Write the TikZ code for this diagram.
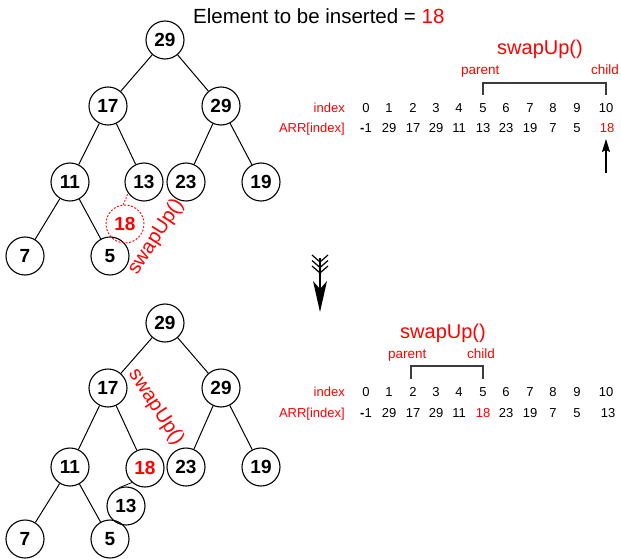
\documentclass[tikz,border=0pt]{standalone}
\usepackage{fontspec}
\setmainfont{Liberation Sans}
\usetikzlibrary{arrows.meta}
\definecolor{hred}{RGB}{255,0,0}
\definecolor{brk}{RGB}{60,60,60}
\begin{document}
\begin{tikzpicture}[x=1pt,y=-1pt,
  hnode/.style={circle,draw,line width=1.1pt,minimum size=38pt,inner sep=0pt,font=\fontsize{19}{19}\selectfont\bfseries},
  treeline/.style={line width=1pt},
  lbl/.style={font=\fontsize{13}{13}\selectfont,anchor=base,inner sep=0pt},
  redlbl/.style={lbl,text=hred},
  bigred/.style={font=\fontsize{20}{20}\selectfont,text=hred,inner sep=0pt},
  bracket/.style={draw=brk,line width=1.2pt}]
\useasboundingbox (0,0) rectangle (621,559);

% title
\node[font=\fontsize{20.5}{20.5}\selectfont,anchor=base west,inner sep=0pt] (title) at (193,24) {Element to be inserted = \textcolor{hred}{18}};

% ---------- top tree ----------
\node[hnode] (tr) at (165,40) {29};
\node[hnode] (ta) at (108,106) {17};
\node[hnode] (tb) at (221,106) {29};
\node[hnode] (tc) at (70,182) {11};
\node[hnode] (td) at (144,182) {13};
\node[hnode] (te) at (186,182) {23};
\node[hnode] (tf) at (261,182) {19};
\node[hnode] (tg) at (25,256) {7};
\node[hnode] (th) at (110,256) {5};
\node[hnode,draw=hred,text=hred,line width=0.9pt,dash pattern=on 2pt off 1.6pt] (tn) at (125,224) {18};
\draw[treeline] (tr) -- (ta);
\draw[treeline] (tr) -- (tb);
\draw[treeline] (ta) -- (tc);
\draw[treeline] (ta) -- (td);
\draw[treeline] (tb) -- (te);
\draw[treeline] (tb) -- (tf);
\draw[treeline] (tc) -- (tg);
\draw[treeline] (tc) -- (th);
\draw[hred,line width=0.9pt,dash pattern=on 1.6pt off 1.6pt] (tn.95) -- (td.215);
\node[bigred,rotate=57] (tsw) at (156,237) {swapUp()};

% ---------- top array ----------
\node[redlbl,anchor=base east] (tidx) at (345,113) {index};
\node[redlbl,anchor=base east] (tarr) at (345,133) {ARR[index]};
\node[lbl] (ti0) at (366,113) {0};
\node[lbl] (tv0) at (366,133) {{\bfseries -}1};
\foreach \i/\x/\v in {1/389/29,2/413/17,3/436/29,4/459/11,5/483/13,6/506/23,7/530/19,8/553/7,9/577/5}{
  \node[lbl] (ti\i) at (\x,113) {\i};
  \node[lbl] (tv\i) at (\x,133) {\v};
}
\node[lbl] (ti10) at (606,113) {10};
\node[redlbl] (tv10) at (607,133) {18};
\node[bigred,anchor=base west] (tswap) at (497,55) {swapUp()};
\node[redlbl,font=\fontsize{13.5}{13.5}\selectfont,anchor=base west] (tpar) at (461,75) {parent};
\node[redlbl,font=\fontsize{13.5}{13.5}\selectfont,anchor=base west] (tchi) at (591,75) {child};
\coordinate (tb1) at (483,95);
\coordinate (tb2) at (483,83);
\coordinate (tb3) at (606,83);
\coordinate (tb4) at (606,95);
\draw[bracket] (tb1) -- (tb2) -- (tb3) -- (tb4);
\coordinate (tarrow) at (606,173);
\coordinate (thead) at (606,139);
\draw[line width=1.6pt,-{Stealth[length=13pt,width=8pt,inset=2pt]}] (tarrow) -- (thead);

% ---------- middle arrow ----------
\coordinate (m1) at (320,258);
\coordinate (m2) at (320,289);
\coordinate (mtip) at (320,312);
\draw[line width=1.2pt] (m1) -- (m2);
\foreach \y in {262,267.5,273}{
  \draw[line width=1.2pt] (312,\y-7) -- (320,\y) -- (328,\y-7);
}
\fill (mtip) -- (313,281) -- (m2) -- (327,281) -- cycle;

% ---------- bottom tree ----------
\node[hnode] (br) at (165,323) {29};
\node[hnode] (ba) at (108,388) {17};
\node[hnode] (bb) at (221,388) {29};
\node[hnode] (bc) at (70,467) {11};
\node[hnode,text=hred] (bd) at (145,468) {18};
\node[hnode] (be) at (186,467) {23};
\node[hnode] (bf) at (261,467) {19};
\node[hnode] (bn) at (126,506) {13};
\node[hnode] (bg) at (25,539) {7};
\node[hnode] (bh) at (110,539) {5};
\draw[treeline] (br) -- (ba);
\draw[treeline] (br) -- (bb);
\draw[treeline] (ba) -- (bc);
\draw[treeline] (ba) -- (bd);
\draw[treeline] (bb) -- (be);
\draw[treeline] (bb) -- (bf);
\draw[treeline] (bc) -- (bg);
\draw[treeline] (bc) -- (bh);
\draw[line width=0.8pt] (bd.228) -- (bn.110);
\node[bigred,rotate=-57] (bsw) at (156,407) {swapUp()};

% ---------- bottom array ----------
\node[redlbl,anchor=base east] (bidx) at (345,396) {index};
\node[redlbl,anchor=base east] (barr) at (345,417) {ARR[index]};
\node[lbl] (bi0) at (366,396) {0};
\node[lbl] (bv0) at (366,417) {{\bfseries -}1};
\foreach \i/\x/\v in {1/389/29,2/413/17,3/436/29,4/459/11,6/506/23,7/530/19,8/553/7,9/577/5}{
  \node[lbl] (bi\i) at (\x,396) {\i};
  \node[lbl] (bv\i) at (\x,417) {\v};
}
\node[lbl] (bi5) at (483,396) {5};
\node[redlbl] (bv5) at (483,417) {18};
\node[lbl] (bi10) at (606,396) {10};
\node[lbl] (bv10) at (608,417) {13};
\node[bigred,anchor=base west] (bswap) at (400,338) {swapUp()};
\node[redlbl,font=\fontsize{13.5}{13.5}\selectfont,anchor=base west] (bpar) at (388,358) {parent};
\node[redlbl,font=\fontsize{13.5}{13.5}\selectfont,anchor=base west] (bchi) at (467,358) {child};
\coordinate (bb1) at (411,379);
\coordinate (bb2) at (411,366);
\coordinate (bb3) at (483,366);
\coordinate (bb4) at (483,379);
\draw[bracket] (bb1) -- (bb2) -- (bb3) -- (bb4);
\end{tikzpicture}
\end{document}
